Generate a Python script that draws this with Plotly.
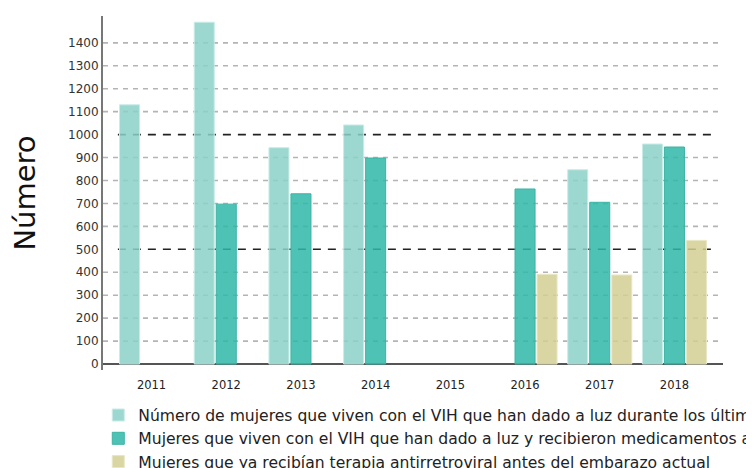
import plotly.graph_objects as go

years = ["2011", "2012", "2013", "2014", "2015", "2016", "2017", "2018"]
s1_name = "Número de mujeres que viven con el VIH que han dado a luz durante los últimos 12 meses"
s2_name = "Mujeres que viven con el VIH que han dado a luz y recibieron medicamentos antirretrovirales para reducir el riesgo de transmisión maternoinfantil"
s3_name = "Mujeres que ya recibían terapia antirretroviral antes del embarazo actual"
s1 = [1130, 1490, 943, 1042, None, None, 847, 959]
s2 = [None, 697, 742, 898, None, 763, 705, 946]
s3 = [None, None, None, None, None, 391, 388, 539]
y_ticks = list(range(0, 1500, 100))
grid_ticks = [v for v in y_ticks if v not in (0, 500, 1000)]
ref_lines = [500, 1000]

FONT = "DejaVu Sans"

fig = go.Figure()
fig.add_trace(go.Bar(x=years, y=s1, name=s1_name,
                     marker=dict(color="rgba(140,209,200,0.85)", line=dict(color="rgba(200,236,231,1)", width=1))))
fig.add_trace(go.Bar(x=years, y=s2, name=s2_name,
                     marker=dict(color="rgba(47,183,168,0.85)", line=dict(color="rgba(60,180,165,1)", width=1))))
fig.add_trace(go.Bar(x=years, y=s3, name=s3_name,
                     marker=dict(color="rgba(210,207,148,0.85)", line=dict(color="rgba(232,230,196,1)", width=1))))

for v in grid_ticks:
    fig.add_shape(type="line", xref="paper", yref="y", x0=0, x1=1, y0=v, y1=v,
                  line=dict(color="#b4b4b4", width=1.6, dash="5px,5px"), layer="below")
for v in ref_lines:
    fig.add_shape(type="line", xref="paper", yref="y", x0=0.024, x1=0.99, y0=v, y1=v,
                  line=dict(color="#222222", width=1.6, dash="8px,7px"), layer="below")

fig.update_layout(
    width=754, height=468,
    margin=dict(l=95, r=39, t=8, b=106, autoexpand=False),
    paper_bgcolor="white", plot_bgcolor="white",
    barmode="group", bargap=0.116, bargroupgap=0.09,
    font=dict(family=FONT, color="#333333"),
    xaxis=dict(type="category", range=[-0.65, 7.65], showgrid=False, showline=False,
               zeroline=False, tickfont=dict(size=11.5, color="#222222"), ticks="",
               ticklabelstandoff=6, automargin=False),
    yaxis=dict(range=[-26, 1517], tickvals=y_ticks, showgrid=False, zeroline=True,
               zerolinecolor="#555555", zerolinewidth=2, showline=True, linecolor="#777777",
               linewidth=2, tickfont=dict(size=12, color="#333333"), ticks="",
               automargin=False,
               title=dict(text="Número", font=dict(size=29, color="#111111"), standoff=24)),
    legend=dict(x=-0.0076, xanchor="left", y=-0.0802, yanchor="top", orientation="h",
                entrywidth=615, entrywidthmode="pixels",
                font=dict(size=15.6, color="#222222"), bgcolor="rgba(0,0,0,0)"),
    showlegend=True,
)

fig.write_html("out.html")
